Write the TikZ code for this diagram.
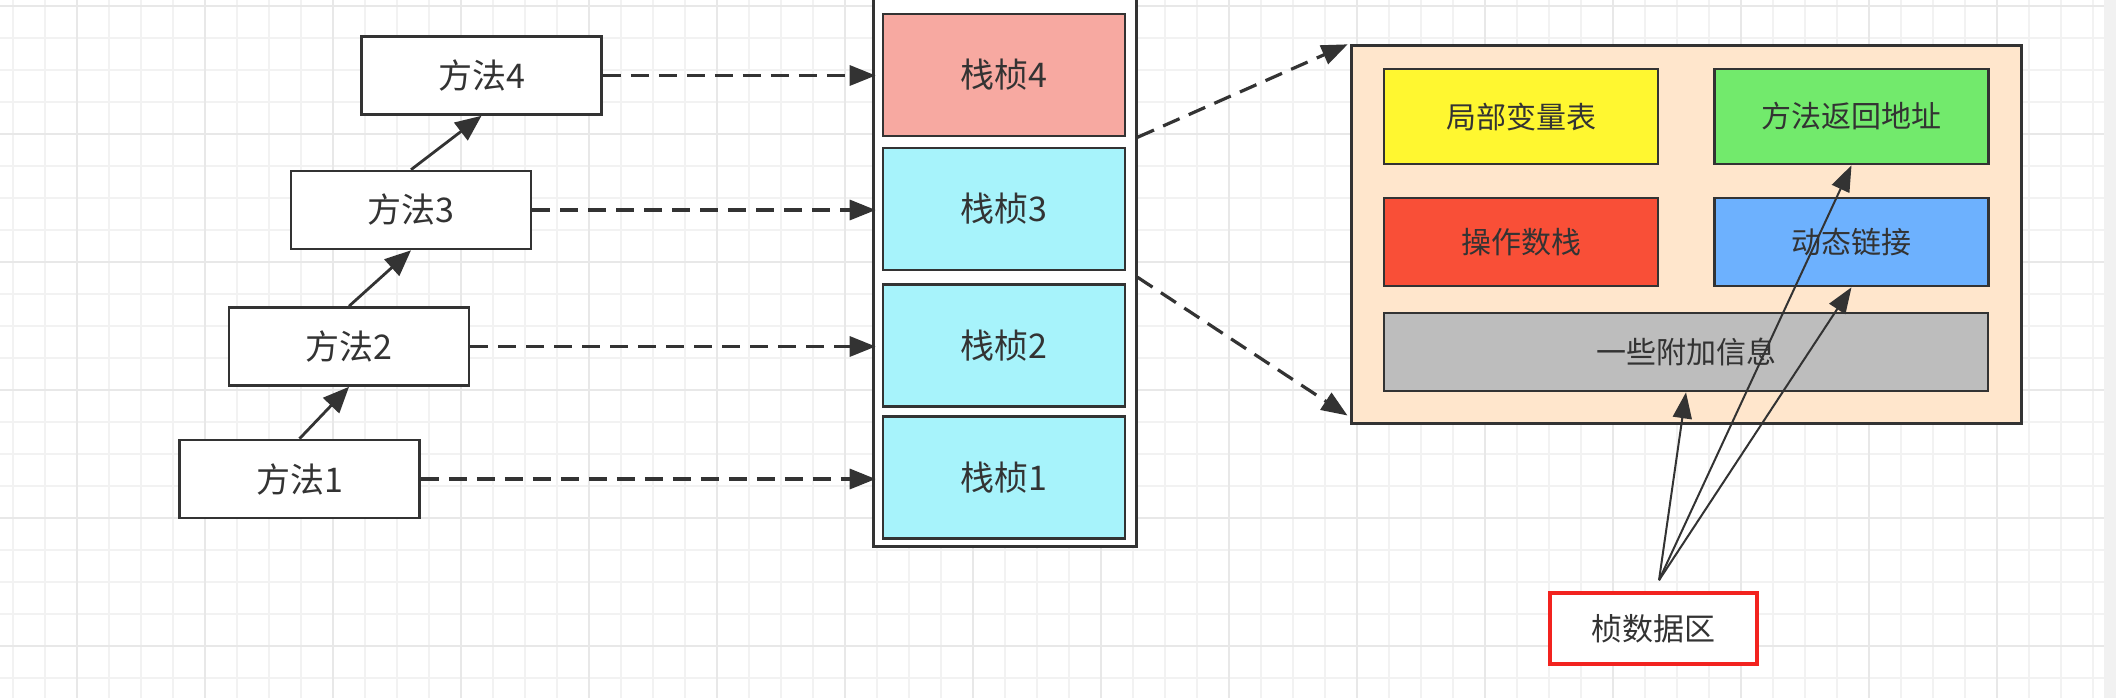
\documentclass[tikz,border=0pt]{standalone}
\usepackage{fontspec}
\setmainfont{Noto Sans CJK SC}
\usetikzlibrary{arrows.meta,calc}
\definecolor{ink}{HTML}{333333}
\definecolor{gminc}{HTML}{F2F2F2}
\definecolor{gmajc}{HTML}{E8E8E8}
\definecolor{salmon}{HTML}{F7A9A1}
\definecolor{cyanbox}{HTML}{A7F3FB}
\definecolor{peach}{HTML}{FFE6CC}
\definecolor{yel}{HTML}{FFF730}
\definecolor{grn}{HTML}{72EA6C}
\definecolor{redbox}{HTML}{F94F37}
\definecolor{blu}{HTML}{6DB1FE}
\definecolor{gry}{HTML}{BDBDBD}
\definecolor{redline}{HTML}{F2231F}
\definecolor{sbar}{HTML}{F1F1F1}
\begin{document}
\begin{tikzpicture}[x=0.5pt,y=-0.5pt,
  gmin/.style={gminc,line width=1pt},
  gmaj/.style={gmajc,line width=1.2pt},
  mbox/.style={draw=ink,line width=1.3pt,fill=white,text=ink,inner sep=0pt,
    minimum width=120pt,minimum height=39pt,font=\fontsize{17}{20}\selectfont},
  zbox/.style={draw=ink,line width=1.3pt,text=ink,inner sep=0pt,
    minimum width=121pt,minimum height=61pt,font=\fontsize{17}{20}\selectfont},
  ibox/.style={draw=ink,line width=1.3pt,text=ink,inner sep=0pt,
    minimum width=137pt,font=\fontsize{15}{18}\selectfont},
  stackfr/.style={draw=ink,line width=1.5pt,fill=white,inner sep=0pt,
    minimum width=131.5pt,minimum height=283pt},
  dasharrow/.style={draw=ink,line width=1.6pt,dash pattern=on 9pt off 5pt,
    -{Triangle[length=13pt,width=10pt]}},
  chainarrow/.style={draw=ink,line width=1.4pt,-{Triangle[length=13pt,width=11pt]}},
  thinarrow/.style={draw=ink,line width=1pt,-{Triangle[length=13pt,width=9.5pt]}}
]
\useasboundingbox (0,0) rectangle (2116,698);
\fill[white] (0,0) rectangle (2116,698);
% grid
\foreach \x in {13,45,...,2100} \draw[gmin] (\x,0) -- (\x,698);
\foreach \y in {6,38,...,698} \draw[gmin] (0,\y) -- (2104,\y);
\foreach \x in {77,205,...,2100} \draw[gmaj] (\x,0) -- (\x,698);
\foreach \y in {6,134,...,698} \draw[gmaj] (0,\y) -- (2104,\y);
\fill[sbar] (2104,0) rectangle (2116,698);

% method boxes
\node[mbox] (m1) at (299.5,479) {方法1};
\node[mbox] (m2) at (349,346.5) {方法2};
\node[mbox] (m3) at (411,210) {方法3};
\node[mbox] (m4) at (481.5,75.5) {方法4};
\draw[chainarrow] (m1.north) -- (m2.south);
\draw[chainarrow] (m2.north) -- (m3.south);
\draw[chainarrow] (m3.north) -- (m4.south);

% stack
\node[stackfr] (stack) at (1004.5,263) {};
\node[zbox,fill=salmon] (zk4) at (1004,75) {栈桢4};
\node[zbox,fill=cyanbox] (zk3) at (1004,209) {栈桢3};
\node[zbox,fill=cyanbox] (zk2) at (1004,345.5) {栈桢2};
\node[zbox,fill=cyanbox] (zk1) at (1004,477.5) {栈桢1};

\foreach \i in {1,2,3,4}
  \draw[dasharrow,shorten >=3pt] (m\i.east) -- (m\i.east -| zk\i.west);

% frame detail
\node[draw=ink,line width=1.5pt,fill=peach,inner sep=0pt,
  minimum width=335pt,minimum height=189pt] (fr) at (1686,234) {};
\node[ibox,fill=yel,minimum height=47.5pt] (lv) at (1521,116.5) {局部变量表};
\node[ibox,fill=grn,minimum height=47.5pt] (ra) at (1851.5,116.5) {方法返回地址};
\node[ibox,fill=redbox,minimum height=44pt] (os) at (1521,242) {操作数栈};
\node[ibox,fill=blu,minimum height=44pt] (dl) at (1851.5,242) {动态链接};
\node[ibox,fill=gry,minimum width=302pt,minimum height=39pt] (ai) at (1686,352) {一些附加信息};

\coordinate (s4) at (stack.east |- zk4.south);
\coordinate (s3) at ($(zk3.south)!0.5!(zk2.north)$);
\coordinate (s3e) at (stack.east |- s3);
\coordinate (t2) at ($(fr.south west)+(-2,-9)$);
\draw[dasharrow,shorten >=1pt] (s4) -- (fr.north west);
\draw[dasharrow] (s3e) -- (t2);

% frame data
\node[draw=redline,line width=1.8pt,fill=white,text=ink,inner sep=0pt,
  minimum width=103.5pt,minimum height=35.5pt,
  font=\fontsize{15.5}{18}\selectfont] (fd) at (1653.5,628.5) {桢数据区};
\coordinate (src) at ($(fd.north)+(5.5,-11)$);
\draw[thinarrow] (src) -- (ai.south);
\draw[thinarrow] (src) -- (ra.south);
\draw[thinarrow] (src) -- (dl.south);
\end{tikzpicture}
\end{document}
